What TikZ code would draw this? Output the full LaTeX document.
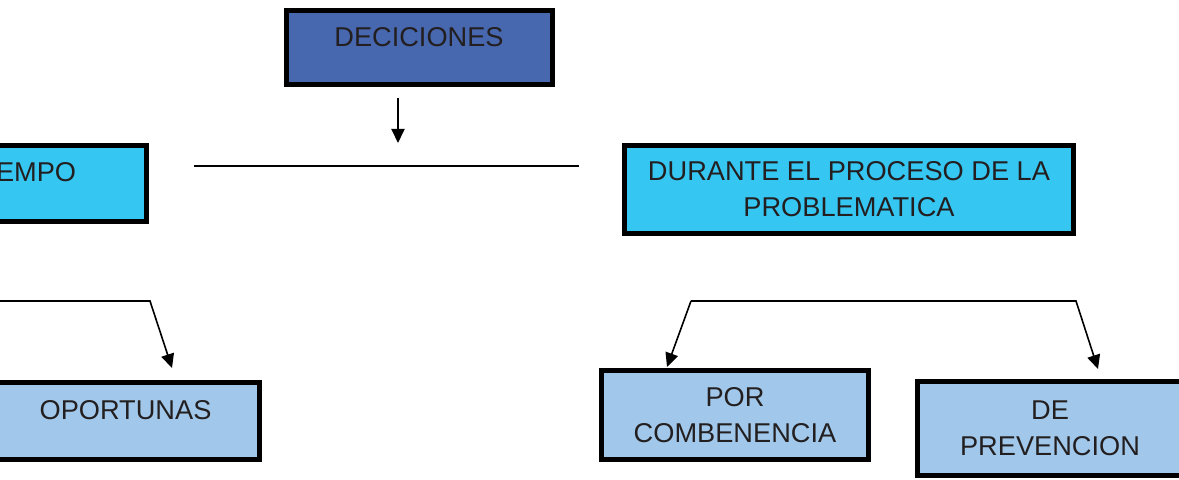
\documentclass[tikz,border=0pt]{standalone}
\usepackage{fontspec}
\setmainfont{Liberation Sans}
\usetikzlibrary{arrows.meta}
\definecolor{dblue}{HTML}{4767AF}
\definecolor{cyanb}{HTML}{35C6F2}
\definecolor{lblue}{HTML}{A1C8EA}
\definecolor{txt}{HTML}{231F20}
\begin{document}
\begin{tikzpicture}[x=0.5pt,y=-0.5pt,
  box/.style={draw=black, line width=2.4pt, rectangle, inner sep=0pt, align=center,
    text=txt, font=\fontsize{13.6}{18}\selectfont},
  lbl/.style={inner sep=0pt, text=txt, font=\fontsize{13.6}{18}\selectfont},
  conn/.style={line width=0.8pt, draw=black},
  arr/.style={conn, -{Triangle[length=7pt,width=6.5pt]}}]
\path[use as bounding box, clip] (0,0) rectangle (1179,480);
% boxes
\node[box, fill=dblue, minimum width=133pt, minimum height=37pt] (dec) at (419.5,47.5) {};
\node[lbl] (dect) at (419,37) {DECICIONES};
\node[box, fill=cyanb, minimum width=122.5pt, minimum height=38pt] (tie) at (24,183.5) {};
\node[lbl] (tiet) at (24,172) {TIEMPO};
\node[box, fill=cyanb, minimum width=224.5pt, minimum height=44pt] (dur) at (849,189.5) {DURANTE EL PROCESO DE LA\\PROBLEMATICA};
\node[box, fill=lblue, minimum width=134pt, minimum height=38.5pt] (opo) at (125.5,421) {};
\node[lbl] (opot) at (125.5,410) {OPORTUNAS};
\node[box, fill=lblue, minimum width=133.5pt, minimum height=44.5pt] (por) at (735,415) {POR\\COMBENENCIA};
\node[box, fill=lblue, minimum width=132.5pt, minimum height=47pt] (dep) at (1050,428.5) {DE\\PREVENCION};
% connector points
\coordinate (a1) at (398,98);
\coordinate (a2) at (398,143);
\coordinate (h1) at (194,166);
\coordinate (h2) at (579,166);
\coordinate (l0) at (-5,301);
\coordinate (l1) at (150,301);
\coordinate (l2) at (172,368);
\coordinate (r0) at (667,367);
\coordinate (r1) at (691,301);
\coordinate (r2) at (1076,301);
\coordinate (r3) at (1098,369);
% connectors
\draw[arr, line width=1pt] (a1) -- (a2);
\draw[conn] (h1) -- (h2);
\draw[arr] (l0) -- (l1) -- (l2);
\draw[arr] (r1) -- (r0);
\draw[arr] (r1) -- (r2) -- (r3);
\end{tikzpicture}
\end{document}
